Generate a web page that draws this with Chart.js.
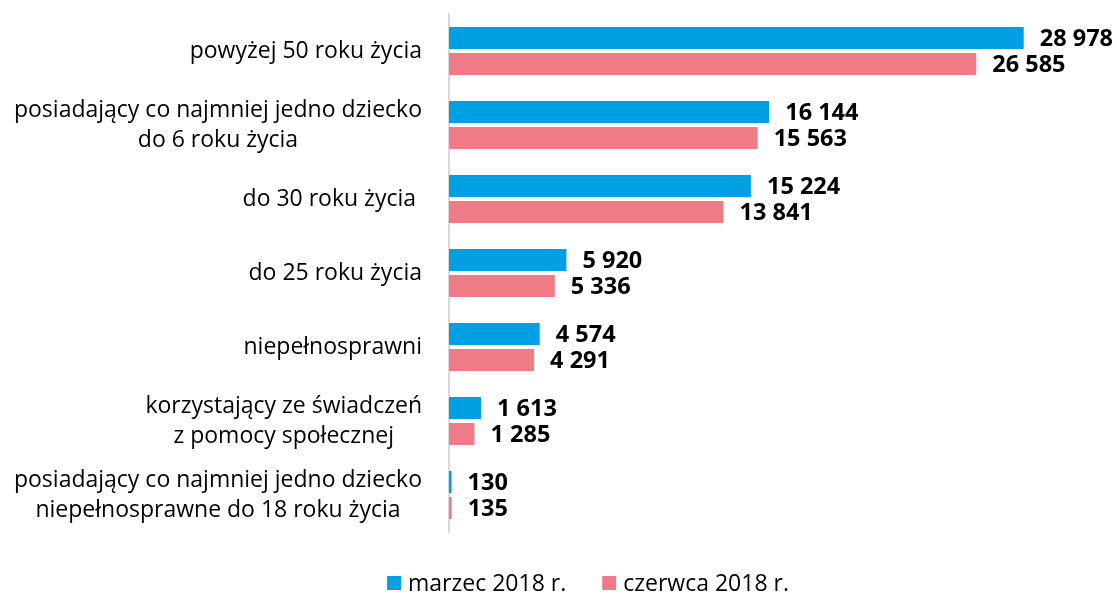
<!DOCTYPE html>
<html><head><meta charset="utf-8">
<script src="https://cdn.jsdelivr.net/npm/chart.js@4"></script>
<style>html,body{margin:0;padding:0;background:#fff}#wrap{width:1117px;height:596px;position:relative}</style>
</head><body><div id="wrap"><canvas id="c"></canvas></div>
<script>
const categories = [
  ["powyżej 50 roku życia"],
  ["posiadający co najmniej jedno dziecko","do 6 roku życia"],
  ["do 30 roku życia "],
  ["do 25 roku życia"],
  ["niepełnosprawni"],
  ["korzystający ze świadczeń","z pomocy społecznej"],
  ["posiadający co najmniej jedno dziecko","niepełnosprawne do 18 roku życia"]
];
const seriesNames = ["marzec 2018 r.","czerwca 2018 r."];
const seriesColors = ["#00A0E3","#EF7B87"];
const marzec = [28978,16144,15224,5920,4574,1613,130];
const czerwiec = [26585,15563,13841,5336,4291,1285,135];

const FONT = "'Open Sans', Lato, sans-serif";
const LABEL_SIZE = 23;
const VALUE_SIZE = 23.5;
const fmt = v => String(v).replace(/\B(?=(\d{3})+(?!\d))/g, " ");

const customText = {
  id: 'customText',
  afterDatasetsDraw(chart) {
    const ctx = chart.ctx;
    const area = chart.chartArea;
    ctx.save();
    // value labels
    ctx.font = "bold " + VALUE_SIZE + "px " + FONT;
    ctx.fillStyle = "#000";
    ctx.textBaseline = "middle";
    ctx.textAlign = "left";
    chart.data.datasets.forEach((ds, i) => {
      chart.getDatasetMeta(i).data.forEach((bar, j) => {
        ctx.fillText(fmt(ds.data[j]), bar.x + 16, bar.y + 1);
      });
    });
    // category labels: block right-aligned, lines centred in block
    ctx.font = LABEL_SIZE + "px " + FONT;
    ctx.textAlign = "center";
    const yScale = chart.scales.y;
    const rightEdge = area.left - 27;
    const lineH = 30;
    chart.data.labels.forEach((lines, i) => {
      const cy = yScale.getPixelForValue(i);
      const w = Math.max(...lines.map(l => ctx.measureText(l).width));
      const cx = rightEdge - w / 2;
      const y0 = cy - (lines.length - 1) * lineH / 2;
      lines.forEach((l, k) => ctx.fillText(l, cx, y0 + k * lineH));
    });
    // legend
    const ly = area.bottom + 51;
    const box = 14, gapBox = 7, gapItem = 36;
    const widths = seriesNames.map(n => box + gapBox + ctx.measureText(n).width);
    const total = widths.reduce((a, b) => a + b, 0) + gapItem;
    let x = 588 - total / 2;
    ctx.textAlign = "left";
    seriesNames.forEach((n, i) => {
      ctx.fillStyle = seriesColors[i];
      ctx.fillRect(x, ly - box / 2, box, box);
      ctx.fillStyle = "#000";
      ctx.fillText(n, x + box + gapBox, ly + 1);
      x += widths[i] + gapItem;
    });
    ctx.restore();
  }
};

new Chart(document.getElementById('c'), {
  type: 'bar',
  data: {
    labels: categories,
    datasets: [
      {label: seriesNames[0], data: marzec, backgroundColor: seriesColors[0]},
      {label: seriesNames[1], data: czerwiec, backgroundColor: seriesColors[1]}
    ]
  },
  options: {
    indexAxis: 'y',
    responsive: true,
    maintainAspectRatio: false,
    animation: false,
    categoryPercentage: 0.703,
    barPercentage: 0.846,
    layout: {padding: {top: 14, right: 73, bottom: 64, left: 0}},
    scales: {
      x: {display: false, min: 0, max: 30000},
      y: {
        afterFit(axis){ axis.width = 449; },
        grid: {display: false, drawTicks: false},
        border: {display: true, color: '#D9D9D9', width: 2},
        ticks: {display: false}
      }
    },
    plugins: {
      legend: {display: false},
      tooltip: {enabled: false}
    }
  },
  plugins: [customText]
});
</script></body></html>
